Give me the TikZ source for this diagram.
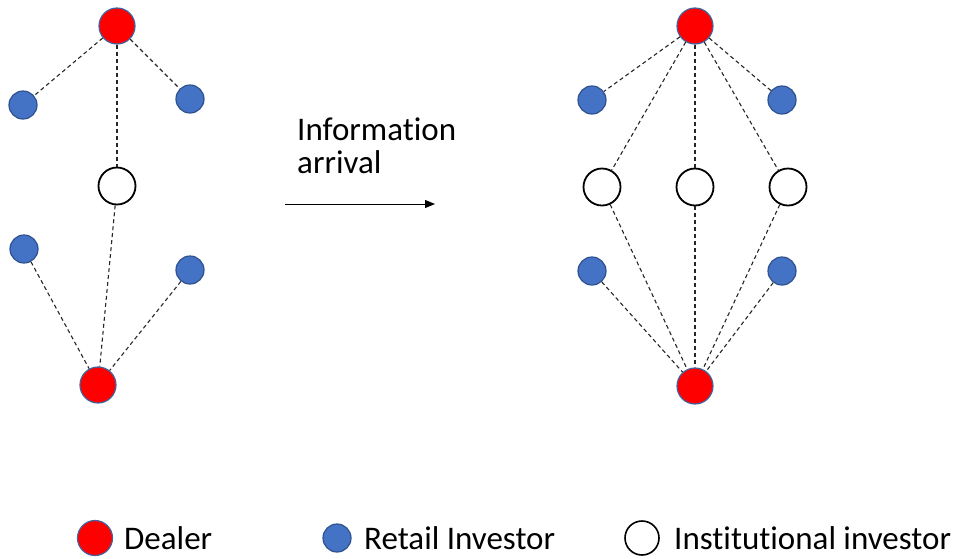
\documentclass[tikz,border=0pt]{standalone}
\usepackage{fontspec}
\setmainfont{Carlito}[Ligatures=NoCommon]
\usetikzlibrary{arrows.meta}
\definecolor{dealerred}{RGB}{255,0,0}
\definecolor{dealeredge}{RGB}{65,100,160}
\definecolor{retailfill}{RGB}{68,114,196}
\definecolor{retailedge}{RGB}{47,82,143}
\tikzset{
  dealer/.style={circle, fill=dealerred, draw=dealeredge, line width=1.2pt, minimum size=36pt, inner sep=0pt},
  retail/.style={circle, fill=retailfill, draw=retailedge, line width=1.2pt, minimum size=28pt, inner sep=0pt},
  inst/.style={circle, fill=white, draw=black, line width=1.8pt, minimum size=37pt, inner sep=0pt},
  link/.style={dash pattern=on 4pt off 3pt, line width=1.1pt, black!85},
  lbl/.style={anchor=west, inner sep=0pt, font=\fontsize{33}{34}\selectfont}
}
\begin{document}
\begin{tikzpicture}[x=1pt, y=-1pt]
  \useasboundingbox (0,0) rectangle (958,558);

  % Before: network prior to information arrival
  \node[dealer] (Ltop) at (117,26) {};
  \node[retail] (Lr1) at (23,105) {};
  \node[retail] (Lr2) at (190,99) {};
  \node[inst]   (Li)  at (117,186) {};
  \node[retail] (Lr3) at (24,249) {};
  \node[retail] (Lr4) at (190,270) {};
  \node[dealer] (Lbot) at (98,385) {};

  \draw[link] (Ltop) -- (Lr1);
  \draw[link] (Ltop) -- (Lr2);
  \draw[link] (Ltop) -- (Li);
  \draw[link] (Li) -- (Lbot);
  \draw[link] (Lr3) -- (Lbot);
  \draw[link] (Lr4) -- (Lbot);

  % Transition arrow and caption (anchored on the baseline of the last line)
  \node[anchor=base west, inner sep=0pt, align=left,
        font=\fontsize{33}{33}\selectfont] (cap) at (297,173)
        {Information\\arrival};
  \coordinate (arrS) at (285,204);
  \coordinate (arrE) at (435,204);
  \draw[line width=1pt, -{Triangle[length=10pt, width=8pt]}] (arrS) -- (arrE);

  % After: network following information arrival
  \node[dealer] (Rtop) at (695,26) {};
  \node[retail] (Rr1) at (592,100) {};
  \node[retail] (Rr2) at (782,100) {};
  \node[inst]   (Ri1) at (602,187) {};
  \node[inst]   (Ri2) at (695,187) {};
  \node[inst]   (Ri3) at (788,187) {};
  \node[retail] (Rr3) at (592,271) {};
  \node[retail] (Rr4) at (782,271) {};
  \node[dealer] (Rbot) at (695,386) {};

  \foreach \n in {Rr1,Rr2,Ri1,Ri2,Ri3}
    \draw[link] (Rtop) -- (\n);
  \foreach \n in {Ri1,Ri2,Ri3,Rr3,Rr4}
    \draw[link] (\n) -- (Rbot);

  % Legend
  \node[dealer, minimum size=35pt] (kd) at (95,538) {};
  \node[lbl] (kdt) at (124,538) {Dealer};
  \node[retail] (kr) at (337,538) {};
  \node[lbl] (krt) at (364,538) {Retail Investor};
  \node[inst, minimum size=34pt, line width=1.6pt] (ki) at (642,538) {};
  \node[lbl] (kit) at (674,538) {Institutional investor};
\end{tikzpicture}
\end{document}
